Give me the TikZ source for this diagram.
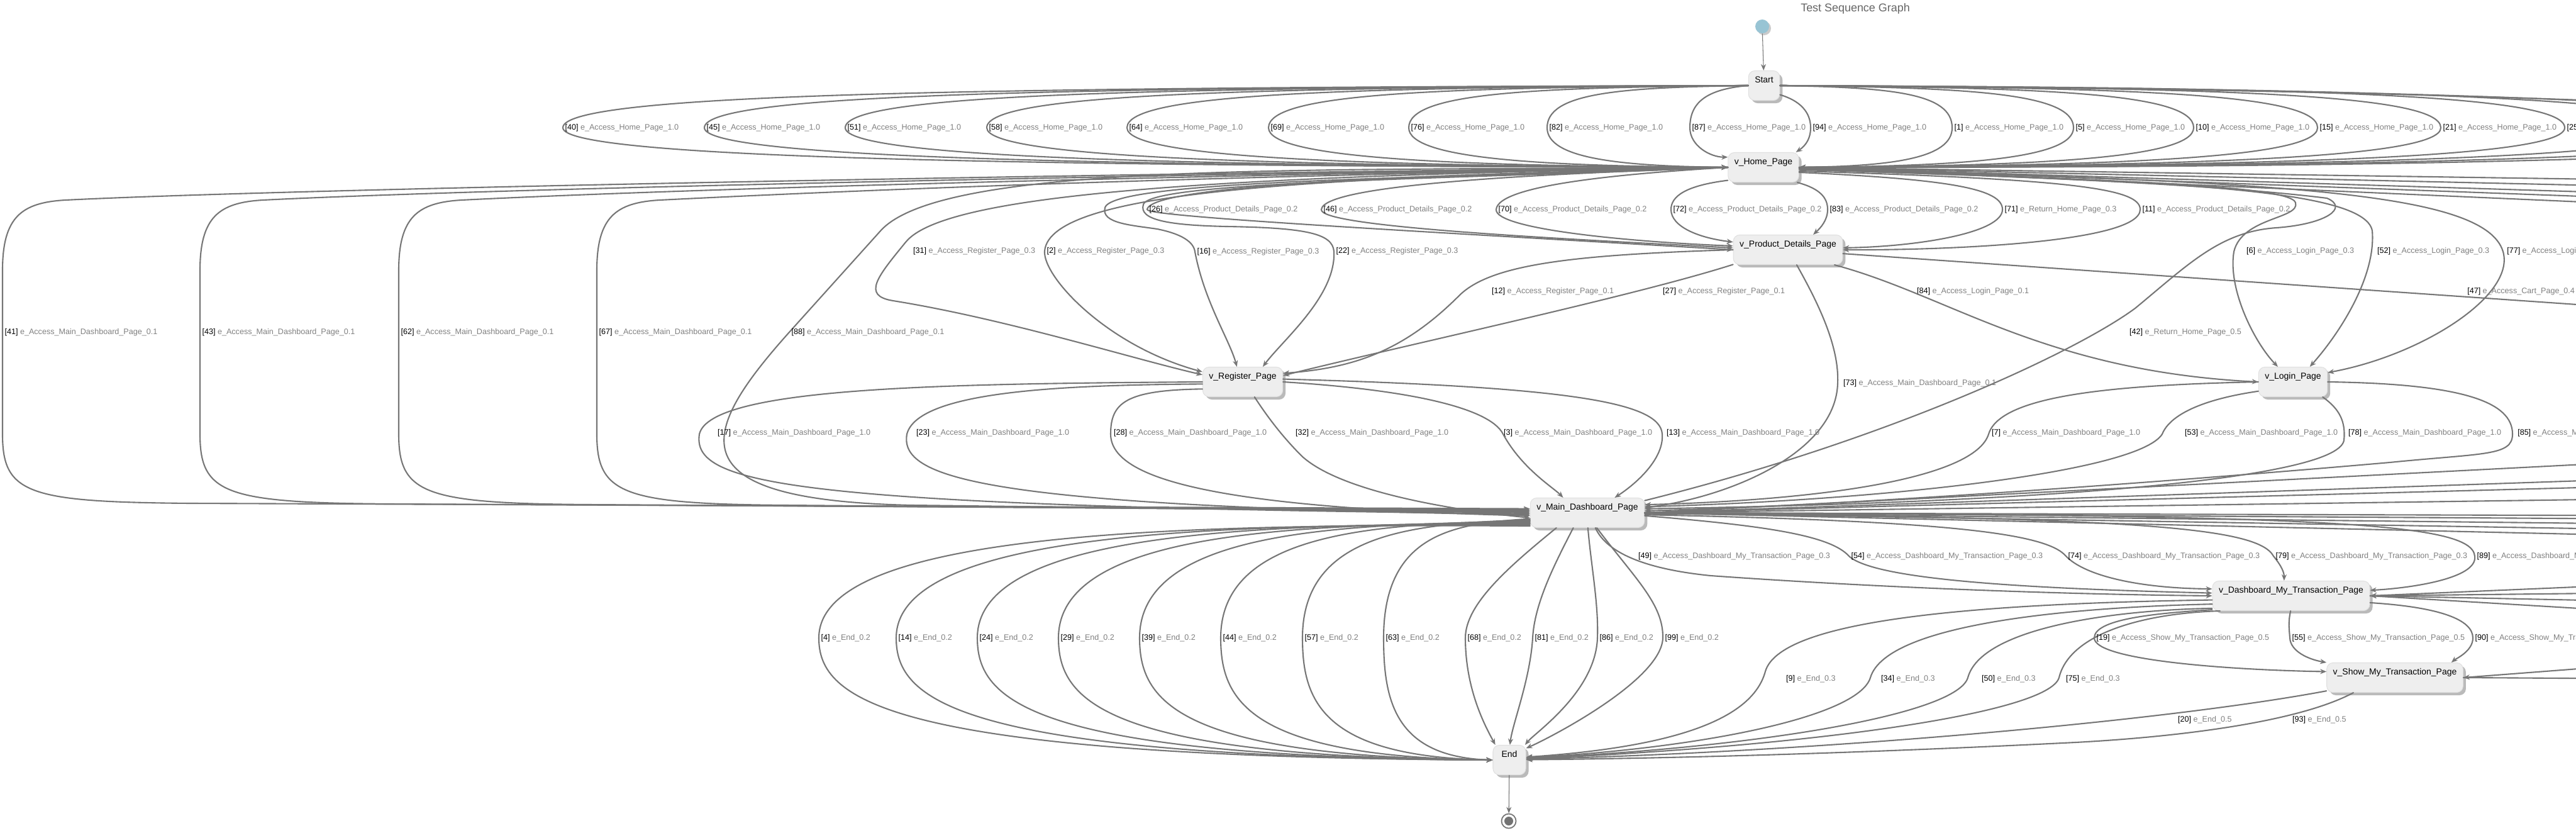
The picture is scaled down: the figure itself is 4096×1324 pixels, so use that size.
\documentclass[tikz,border=0pt]{standalone}
\usepackage{fontspec}
\setmainfont{Liberation Sans}
\usepackage{tikz}
\usetikzlibrary{arrows.meta,shadows}
\definecolor{edgegray}{RGB}{118,118,118}
\definecolor{lblgray}{RGB}{128,128,128}
\definecolor{boxfill}{RGB}{238,238,238}
\definecolor{initblue}{RGB}{152,196,212}
\newcommand{\trans}[2]{\textcolor{black}{[#1]}\ #2}

\tikzset{
  statebox/.style={rectangle,rounded corners=1mm,fill=boxfill,draw=black!12,line width=0.3pt,
    inner xsep=1mm,inner ysep=0.8mm,text height=1.1mm,text depth=2mm,
    font=\fontsize{3.97pt}{4.5pt}\selectfont,
    drop shadow={shadow xshift=0.45mm,shadow yshift=-0.45mm,fill=black!45,opacity=0.6}},
  edge/.style={draw=edgegray,line width=0.6pt,->},
  thinedge/.style={draw=edgegray,line width=0.3pt,->},
  lbl/.style={anchor=west,inner sep=0.25mm,text=lblgray,font=\fontsize{3.58pt}{4pt}\selectfont},
}

\begin{document}
\begin{tikzpicture}[x=0.01cm,y=-0.01cm,>={Stealth[length=1mm,width=0.8mm]},line cap=round]
\useasboundingbox (0,0) rectangle (4096,1324);
\clip (0,0) rectangle (4096,1324);
\fill[white] (0,0) rectangle (4096,1324);

\node[text=black!60,font=\fontsize{5.1pt}{6pt}\selectfont] (title) at (2950,14) {Test Sequence Graph};

% states
\node[circle,fill=initblue,minimum size=2.2mm,inner sep=0pt,drop shadow={shadow xshift=0.3mm,shadow yshift=-0.3mm,fill=black!40,opacity=0.5}] (init) at (2802,42) {};
\node[statebox] (start) at (2805,136) {Start};
\node[statebox] (home) at (2804,266) {v\_Home\_Page};
\node[statebox] (prod) at (2843,397) {v\_Product\_Details\_Page};
\node[statebox] (reg) at (1976,607) {v\_Register\_Page};
\node[statebox] (login) at (3646,607) {v\_Login\_Page};
\node[statebox] (md) at (2524,815) {v\_Main\_Dashboard\_Page};
\node[statebox] (dash) at (3643,947) {v\_Dashboard\_My\_Transaction\_Page};
\node[statebox] (show) at (3808,1077) {v\_Show\_My\_Transaction\_Page};
\node[statebox,minimum width=5.2mm] (end) at (2400,1208) {End};
\node[circle,draw=edgegray,fill=white,line width=0.5pt,minimum size=2.3mm,inner sep=0pt,
  path picture={\fill[black!55] (path picture bounding box.center) circle (0.7mm);}] (final) at (2399,1305) {};

\draw[thinedge] (init) -- (start);
\draw[thinedge] (end) -- (final);

% Start -> v_Home_Page
\draw[edge] (start.west) .. controls (1555,139) and (895,148) .. (895,203) node[lbl] (t40) {\trans{40}{e\_Access\_Home\_Page\_1.0}} .. controls (895,252) and (1636,264) .. (home.west);
\draw[edge] (start.west) .. controls (1701,139) and (1120,148) .. (1120,203) node[lbl] (t45) {\trans{45}{e\_Access\_Home\_Page\_1.0}} .. controls (1120,252) and (1771,264) .. (home.west);
\draw[edge] (start.west) .. controls (1847,139) and (1344,148) .. (1344,203) node[lbl] (t51) {\trans{51}{e\_Access\_Home\_Page\_1.0}} .. controls (1344,252) and (1905,264) .. (home.west);
\draw[edge] (start.west) .. controls (1993,139) and (1569,148) .. (1569,203) node[lbl] (t58) {\trans{58}{e\_Access\_Home\_Page\_1.0}} .. controls (1569,252) and (2040,264) .. (home.west);
\draw[edge] (start.west) .. controls (2138,139) and (1792,148) .. (1792,203) node[lbl] (t64) {\trans{64}{e\_Access\_Home\_Page\_1.0}} .. controls (1792,252) and (2174,264) .. (home.west);
\draw[edge] (start.west) .. controls (2284,139) and (2017,148) .. (2017,203) node[lbl] (t69) {\trans{69}{e\_Access\_Home\_Page\_1.0}} .. controls (2017,252) and (2309,264) .. (home.west);
\draw[edge] (start.west) .. controls (2429,139) and (2240,148) .. (2240,203) node[lbl] (t76) {\trans{76}{e\_Access\_Home\_Page\_1.0}} .. controls (2240,252) and (2443,264) .. (home.west);
\draw[edge] (start.west) .. controls (2572,139) and (2460,148) .. (2460,203) node[lbl] (t82) {\trans{82}{e\_Access\_Home\_Page\_1.0}} .. controls (2460,252) and (2575,264) .. (home.west);
\draw[edge] (start.west) .. controls (2710,142) and (2687,165) .. (2687,203) node[lbl] (t87) {\trans{87}{e\_Access\_Home\_Page\_1.0}} .. controls (2687,232) and (2720,250) .. (home.164);
\draw[edge] (start.-30) .. controls (2862,160) and (2879,178) .. (2879,203) node[lbl] (t94) {\trans{94}{e\_Access\_Home\_Page\_1.0}} .. controls (2879,225) and (2866,235) .. (home.25);
\draw[edge] (start.east) .. controls (3008,139) and (3104,148) .. (3104,203) node[lbl] (t1) {\trans{1}{e\_Access\_Home\_Page\_1.0}} .. controls (3104,252) and (3007,264) .. (home.east);
\draw[edge] (start.east) .. controls (3134,139) and (3297,148) .. (3297,203) node[lbl] (t5) {\trans{5}{e\_Access\_Home\_Page\_1.0}} .. controls (3297,252) and (3123,264) .. (home.east);
\draw[edge] (start.east) .. controls (3258,139) and (3488,148) .. (3488,203) node[lbl] (t10) {\trans{10}{e\_Access\_Home\_Page\_1.0}} .. controls (3488,252) and (3237,264) .. (home.east);
\draw[edge] (start.east) .. controls (3386,139) and (3685,148) .. (3685,203) node[lbl] (t15) {\trans{15}{e\_Access\_Home\_Page\_1.0}} .. controls (3685,252) and (3355,264) .. (home.east);
\draw[edge] (start.east) .. controls (3513,139) and (3881,148) .. (3881,203) node[lbl] (t21) {\trans{21}{e\_Access\_Home\_Page\_1.0}} .. controls (3881,252) and (3473,264) .. (home.east);
\draw[edge] (start.east) .. controls (3641,139) and (4078,148) .. (4078,203) node[lbl] (t25) {\trans{25}{e\_Access\_Home\_Page\_1.0}} .. controls (4078,252) and (3591,264) .. (home.east);
\draw[edge] (start.east) .. controls (3766,140) and (4270,155) .. (4270,203) .. controls (4270,250) and (3706,265) .. (home.east);
\draw[edge] (start.east) .. controls (3889,141) and (4460,165) .. (4460,203) .. controls (4460,248) and (3820,266) .. (home.east);
\draw[edge] (start.east) .. controls (4023,142) and (4650,178) .. (4650,203) .. controls (4650,246) and (3935,267) .. (home.east);

% v_Home_Page -> v_Main_Dashboard_Page
\draw[edge] (home.west) .. controls (2000,272) and (504,298) .. (104,318) .. controls (34,322) and (4,345) .. (4,430) -- (4,528) node[lbl] (t41) {\trans{41}{e\_Access\_Main\_Dashboard\_Page\_0.1}} -- (4,690) .. controls (4,785) and (44,798) .. (304,800) -- (md.176);
\draw[edge] (home.west) .. controls (2000,274) and (818,298) .. (418,318) .. controls (348,322) and (318,345) .. (318,430) -- (318,528) node[lbl] (t43) {\trans{43}{e\_Access\_Main\_Dashboard\_Page\_0.1}} -- (318,690) .. controls (318,785) and (358,799) .. (618,801) -- (md.177);
\draw[edge] (home.west) .. controls (2000,276) and (1134,298) .. (734,318) .. controls (664,322) and (634,345) .. (634,430) -- (634,528) node[lbl] (t62) {\trans{62}{e\_Access\_Main\_Dashboard\_Page\_0.1}} -- (634,690) .. controls (634,785) and (674,800) .. (934,802) -- (md.178);
\draw[edge] (home.west) .. controls (2000,278) and (1449,298) .. (1049,318) .. controls (979,322) and (949,345) .. (949,430) -- (949,528) node[lbl] (t67) {\trans{67}{e\_Access\_Main\_Dashboard\_Page\_0.1}} -- (949,690) .. controls (949,785) and (989,801) .. (1249,803) -- (md.179);
\draw[edge] (home.west) .. controls (2100,272) and (1500,255) .. (1400,367) -- (1255,528) node[lbl] (t88) {\trans{88}{e\_Access\_Main\_Dashboard\_Page\_0.1}} .. controls (1110,690) and (1070,795) .. (1450,803) -- (md.180);

% v_Home_Page -> v_Register_Page
\node[lbl] (t31) at (1449,399) {\trans{31}{e\_Access\_Register\_Page\_0.3}};
\draw[edge] (home.west) .. controls (1900,280) and (1500,310) .. (1440,385) .. controls (1395,440) and (1370,470) .. (1420,478) .. controls (1600,507) and (1800,570) .. (reg.170);
\draw[edge] (home.west) .. controls (2100,283) and (1670,300) .. (1661,399) node[lbl] (t2) {\trans{2}{e\_Access\_Register\_Page\_0.3}} .. controls (1658,440) and (1760,550) .. (reg.166);
\draw[edge] (home.west) .. controls (2300,283) and (1770,285) .. (1757,330) .. controls (1750,355) and (1800,358) .. (1840,364) .. controls (1880,372) and (1898,385) .. (1900,400) node[lbl] (t16) {\trans{16}{e\_Access\_Register\_Page\_0.3}} .. controls (1915,480) and (1955,540) .. (reg.111);
\draw[edge] (home.west) .. controls (2300,285) and (1830,288) .. (1818,325) .. controls (1810,350) and (1860,358) .. (1950,360) .. controls (2080,362) and (2118,372) .. (2121,399) node[lbl] (t22) {\trans{22}{e\_Access\_Register\_Page\_0.3}} .. controls (2125,470) and (2040,540) .. (reg.37);

% v_Home_Page -> v_Product_Details_Page
\draw[edge] (home.west) .. controls (2400,275) and (1830,288) .. (1824,333) node[lbl] (t26) {\trans{26}{e\_Access\_Product\_Details\_Page\_0.2}} .. controls (1822,345) and (2300,370) .. (prod.west);
\draw[edge] (home.west) .. controls (2500,275) and (2105,290) .. (2101,333) node[lbl] (t46) {\trans{46}{e\_Access\_Product\_Details\_Page\_0.2}} .. controls (2098,360) and (2450,378) .. (prod.178);
\draw[edge] (home.west) .. controls (2600,275) and (2382,292) .. (2379,333) node[lbl] (t70) {\trans{70}{e\_Access\_Product\_Details\_Page\_0.2}} .. controls (2377,365) and (2600,385) .. (prod.176);
\draw[edge] (home.200) .. controls (2680,295) and (2657,312) .. (2657,333) node[lbl] (t72) {\trans{72}{e\_Access\_Product\_Details\_Page\_0.2}} .. controls (2657,360) and (2700,378) .. (prod.172);
\draw[edge] (home.-24) .. controls (2895,300) and (2906,315) .. (2906,333) node[lbl] (t83) {\trans{83}{e\_Access\_Product\_Details\_Page\_0.2}} .. controls (2906,350) and (2895,362) .. (prod.31);
\draw[edge] (home.-8) .. controls (3100,285) and (3184,300) .. (3184,333) node[lbl] (t71) {\trans{71}{e\_Return\_Home\_Page\_0.3}} .. controls (3184,370) and (3050,392) .. (prod.2);
\draw[edge] (home.-6) .. controls (3300,285) and (3403,300) .. (3403,333) node[lbl] (t11) {\trans{11}{e\_Access\_Product\_Details\_Page\_0.2}} .. controls (3403,385) and (3100,398) .. (prod.0);

% v_Home_Page -> v_Login_Page
\node[lbl] (t6) at (3569,399) {\trans{6}{e\_Access\_Login\_Page\_0.3}};
\node[lbl] (t52) at (3777,399) {\trans{52}{e\_Access\_Login\_Page\_0.3}};
\node[lbl] (t77) at (3983,399) {\trans{77}{e\_Access\_Login\_Page\_0.3}};
\draw[edge] (home.-3) .. controls (3300,285) and (3640,292) .. (3650,322) .. controls (3658,348) and (3565,345) .. (3552,400) .. controls (3542,460) and (3585,545) .. (login.135);
\draw[edge] (home.-2) .. controls (3400,288) and (3760,295) .. (3772,367) .. controls (3778,440) and (3720,530) .. (login.42);
\draw[edge] (home.-1) .. controls (3600,290) and (3950,300) .. (3980,400) .. controls (4000,470) and (3850,565) .. (login.15);

% v_Home_Page <-> off to the right
\coordinate (hoff1) at (4400,289);
\coordinate (hoff2) at (4400,301);
\coordinate (hoff3) at (4400,314);
\coordinate (hoff4) at (4400,323);
\coordinate (hoff5) at (4400,334);
\draw[edge] (home.east) -- (hoff1);
\draw[edge] (hoff2) -- (home.east);
\draw[edge] (home.east) -- (hoff3);
\draw[edge] (hoff4) -- (home.east);
\draw[edge] (home.east) -- (hoff5);

% v_Product_Details_Page -> ...
\node[lbl] (t12) at (2369,463) {\trans{12}{e\_Access\_Register\_Page\_0.1}};
\node[lbl] (t27) at (2641,463) {\trans{27}{e\_Access\_Register\_Page\_0.1}};
\draw[edge] (prod.west) .. controls (2500,405) and (2370,420) .. (2320,470) .. controls (2230,560) and (2150,585) .. (reg.12);
\draw[edge] (prod.195) .. controls (2600,470) and (2250,545) .. (reg.9);
\node[lbl] (t84) at (3045,463) {\trans{84}{e\_Access\_Login\_Page\_0.1}};
\draw[edge] (prod.-18) .. controls (3100,470) and (3250,590) .. (login.west);
\coordinate (cartoff) at (4400,505);
\node[lbl] (t47) at (3920,463) {\trans{47}{e\_Access\_Cart\_Page\_0.4}};
\draw[edge] (prod.-4) -- (cartoff);
\node[lbl] (t73) at (2928,609) {\trans{73}{e\_Access\_Main\_Dashboard\_Page\_0.1}};
\draw[edge] (prod.-60) .. controls (2890,480) and (2925,550) .. (2922,610) .. controls (2918,720) and (2750,790) .. (md.5);

% v_Main_Dashboard_Page -> v_Home_Page
\node[lbl] (t42) at (3383,528) {\trans{42}{e\_Return\_Home\_Page\_0.5}};
\draw[edge] (md.12) .. controls (3000,700) and (3300,560) .. (3395,490) .. controls (3480,420) and (3530,368) .. (3620,362) .. controls (3700,356) and (3735,330) .. (3700,315) .. controls (3500,290) and (3100,276) .. (home.-4);

% v_Register_Page -> v_Main_Dashboard_Page
\node[lbl] (t17) at (1138,688) {\trans{17}{e\_Access\_Main\_Dashboard\_Page\_1.0}};
\node[lbl] (t23) at (1454,688) {\trans{23}{e\_Access\_Main\_Dashboard\_Page\_1.0}};
\node[lbl] (t28) at (1768,688) {\trans{28}{e\_Access\_Main\_Dashboard\_Page\_1.0}};
\node[lbl] (t32) at (2057,688) {\trans{32}{e\_Access\_Main\_Dashboard\_Page\_1.0}};
\node[lbl] (t3) at (2388,688) {\trans{3}{e\_Access\_Main\_Dashboard\_Page\_1.0}};
\node[lbl] (t13) at (2647,688) {\trans{13}{e\_Access\_Main\_Dashboard\_Page\_1.0}};
\draw[edge] (reg.180) .. controls (1500,610) and (1130,615) .. (1112,690) .. controls (1100,770) and (1250,805) .. (md.181);
\draw[edge] (reg.183) .. controls (1700,612) and (1460,620) .. (1442,690) .. controls (1430,760) and (1560,805) .. (md.182);
\draw[edge] (reg.190) .. controls (1790,620) and (1766,640) .. (1766,690) .. controls (1766,765) and (1950,808) .. (md.183);
\draw[edge] (reg.-52) .. controls (2020,670) and (2045,700) .. (2070,725) .. controls (2130,780) and (2300,810) .. (md.185);
\draw[edge] (reg.east) .. controls (2250,620) and (2370,650) .. (2390,690) .. controls (2420,745) and (2470,775) .. (md.148);
\draw[edge] (reg.4) .. controls (2500,615) and (2640,640) .. (2643,690) .. controls (2646,730) and (2600,770) .. (md.29);

% v_Login_Page -> v_Main_Dashboard_Page
\node[lbl] (t7) at (3164,688) {\trans{7}{e\_Access\_Main\_Dashboard\_Page\_1.0}};
\node[lbl] (t53) at (3471,688) {\trans{53}{e\_Access\_Main\_Dashboard\_Page\_1.0}};
\node[lbl] (t78) at (3731,688) {\trans{78}{e\_Access\_Main\_Dashboard\_Page\_1.0}};
\node[lbl] (t85) at (4000,688) {\trans{85}{e\_Access\_Main\_Dashboard\_Page\_1.0}};
\draw[edge] (login.west) .. controls (3350,612) and (3180,630) .. (3162,690) .. controls (3140,760) and (2900,795) .. (md.8);
\draw[edge] (login.195) .. controls (3500,635) and (3450,660) .. (3438,690) .. controls (3400,750) and (3000,795) .. (md.6);
\draw[edge] (login.-27) .. controls (3720,650) and (3730,670) .. (3727,700) .. controls (3715,765) and (3200,800) .. (md.4);
\draw[edge] (login.east) .. controls (3920,610) and (3995,640) .. (3995,690) .. controls (3995,725) and (3950,720) .. (3800,735) .. controls (3400,770) and (2900,805) .. (md.2);

% v_Main_Dashboard_Page <-> off to the right
\coordinate (moff1) at (4400,723);
\coordinate (moff2) at (4400,754);
\coordinate (moff3) at (4400,767);
\coordinate (moff4) at (4400,790);
\coordinate (moff5) at (4400,820);
\coordinate (moff6) at (4400,826);
\coordinate (moff7) at (4400,835);
\coordinate (moff8) at (4400,845);
\coordinate (moff9) at (4400,856);
\draw[edge] (moff1) -- (md.east);
\draw[edge] (md.east) -- (moff2);
\draw[edge] (moff3) -- (md.east);
\draw[edge] (md.east) -- (moff4);
\draw[edge] (md.east) -- (moff5);
\draw[edge] (moff6) -- (md.east);
\draw[edge] (md.east) -- (moff7);
\draw[edge] (md.east) -- (moff8);
\draw[edge] (moff9) -- (md.east);

% v_Main_Dashboard_Page -> End
\draw[edge] (md.193) .. controls (1868,832) and (1302,845) .. (1302,1014) node[lbl] (t4) {\trans{4}{e\_End\_0.2}} .. controls (1302,1112) and (1409,1203) .. (end.west);
\draw[edge] (md.192) .. controls (1930,832) and (1425,845) .. (1425,1014) node[lbl] (t14) {\trans{14}{e\_End\_0.2}} .. controls (1425,1112) and (1520,1203) .. (end.west);
\draw[edge] (md.191) .. controls (1994,832) and (1554,845) .. (1554,1014) node[lbl] (t24) {\trans{24}{e\_End\_0.2}} .. controls (1554,1112) and (1636,1203) .. (end.west);
\draw[edge] (md.190) .. controls (2058,832) and (1683,845) .. (1683,1014) node[lbl] (t29) {\trans{29}{e\_End\_0.2}} .. controls (1683,1112) and (1752,1203) .. (end.west);
\draw[edge] (md.189) .. controls (2123,832) and (1812,845) .. (1812,1014) node[lbl] (t39) {\trans{39}{e\_End\_0.2}} .. controls (1812,1112) and (1868,1203) .. (end.west);
\draw[edge] (md.188) .. controls (2187,832) and (1941,845) .. (1941,1014) node[lbl] (t44) {\trans{44}{e\_End\_0.2}} .. controls (1941,1112) and (1984,1203) .. (end.west);
\draw[edge] (md.187) .. controls (2252,832) and (2071,845) .. (2071,1014) node[lbl] (t57) {\trans{57}{e\_End\_0.2}} .. controls (2071,1112) and (2101,1203) .. (end.west);
\draw[edge] (md.186) .. controls (2317,832) and (2200,845) .. (2200,1014) node[lbl] (t63) {\trans{63}{e\_End\_0.2}} .. controls (2200,1112) and (2217,1203) .. (end.west);
\draw[edge] (md.206) .. controls (2400,900) and (2330,960) .. (2330,1014) node[lbl] (t68) {\trans{68}{e\_End\_0.2}} .. controls (2330,1100) and (2365,1160) .. (end.133);
\draw[edge] (md.227) .. controls (2470,900) and (2440,960) .. (2437,1014) node[lbl] (t81) {\trans{81}{e\_End\_0.2}} .. controls (2433,1080) and (2405,1150) .. (end.88);
\draw[edge] (md.272) .. controls (2530,900) and (2542,960) .. (2540,1014) node[lbl] (t86) {\trans{86}{e\_End\_0.2}} .. controls (2537,1100) and (2440,1165) .. (end.44);
\draw[edge] (md.302) .. controls (2600,920) and (2645,960) .. (2644,1014) node[lbl] (t99) {\trans{99}{e\_End\_0.2}} .. controls (2642,1080) and (2470,1170) .. (end.35);

% v_Main_Dashboard_Page -> v_Dashboard_My_Transaction_Page
\node[lbl] (t49) at (2602,884) {\trans{49}{e\_Access\_Dashboard\_My\_Transaction\_Page\_0.3}};
\draw[edge] (md.298) .. controls (2555,880) and (2620,905) .. (2720,915) .. controls (3000,935) and (3300,945) .. (dash.west);
\draw[edge] (md.-3) .. controls (2800,835) and (2910,850) .. (2940,884) node[lbl] (t54) {\trans{54}{e\_Access\_Dashboard\_My\_Transaction\_Page\_0.3}} .. controls (2980,920) and (3200,935) .. (dash.178);
\draw[edge] (md.-2) .. controls (3100,828) and (3255,848) .. (3285,884) node[lbl] (t74) {\trans{74}{e\_Access\_Dashboard\_My\_Transaction\_Page\_0.3}} .. controls (3315,915) and (3400,935) .. (dash.175);
\draw[edge] (md.-1) .. controls (3400,822) and (3590,838) .. (3615,884) node[lbl] (t79) {\trans{79}{e\_Access\_Dashboard\_My\_Transaction\_Page\_0.3}} .. controls (3628,900) and (3632,910) .. (dash.115);
\draw[edge] (md.0) .. controls (3700,818) and (3930,830) .. (3935,884) node[lbl] (t89) {\trans{89}{e\_Access\_Dashboard\_My\_Transaction\_Page\_0.3}} .. controls (3940,920) and (3830,935) .. (dash.4);

% v_Dashboard_My_Transaction_Page -> End / v_Show_My_Transaction_Page
\node[lbl] (t9) at (2837,1079) {\trans{9}{e\_End\_0.3}};
\node[lbl] (t34) at (2988,1079) {\trans{34}{e\_End\_0.3}};
\node[lbl] (t50) at (3148,1079) {\trans{50}{e\_End\_0.3}};
\node[lbl] (t75) at (3282,1079) {\trans{75}{e\_End\_0.3}};
\draw[edge] (dash.183) .. controls (3100,960) and (2830,990) .. (2807,1067) .. controls (2790,1130) and (2700,1185) .. (end.10);
\draw[edge] (dash.186) .. controls (3300,965) and (3000,990) .. (2974,1077) .. controls (2955,1140) and (2700,1190) .. (end.8);
\draw[edge] (dash.189) .. controls (3350,970) and (3150,1000) .. (3129,1077) .. controls (3112,1135) and (2800,1188) .. (end.6);
\draw[edge] (dash.192) .. controls (3400,975) and (3290,1010) .. (3274,1077) .. controls (3258,1132) and (2900,1185) .. (end.4);
\draw[edge] (dash.190) .. controls (3420,975) and (3330,985) .. (3330,1014) node[lbl] (t19) {\trans{19}{e\_Access\_Show\_My\_Transaction\_Page\_0.5}} .. controls (3330,1050) and (3550,1065) .. (show.175);
\draw[edge] (dash.-92) .. controls (3638,990) and (3640,1000) .. (3641,1014) node[lbl] (t55) {\trans{55}{e\_Access\_Show\_My\_Transaction\_Page\_0.5}} .. controls (3642,1035) and (3670,1048) .. (show.north west);
\draw[edge] (dash.-5) .. controls (3880,965) and (3932,985) .. (3932,1014) node[lbl] (t90) {\trans{90}{e\_Access\_Show\_My\_Transaction\_Page\_0.5}} .. controls (3932,1035) and (3905,1047) .. (show.15);
\coordinate (doff1) at (4400,920);
\coordinate (doff2) at (4400,940);
\coordinate (doff3) at (4400,960);
\coordinate (doff4) at (4400,985);
\draw[edge] (doff1) -- (dash.east);
\draw[edge] (dash.east) -- (doff2);
\draw[edge] (doff3) -- (dash.east);
\draw[edge] (dash.east) -- (doff4);

% v_Show_My_Transaction_Page -> End
\node[lbl] (t20) at (3460,1144) {\trans{20}{e\_End\_0.5}};
\node[lbl] (t93) at (3642,1144) {\trans{93}{e\_End\_0.5}};
\draw[edge] (show.191) .. controls (3450,1145) and (2900,1195) .. (end.3);
\draw[edge] (show.200) .. controls (3650,1150) and (3450,1172) .. (3300,1180) .. controls (3000,1195) and (2700,1205) .. (end.1);
\coordinate (soff1) at (4400,1040);
\coordinate (soff2) at (4400,1080);
\draw[edge] (soff1) -- (show.east);
\draw[edge] (show.east) -- (soff2);
\end{tikzpicture}
\end{document}
